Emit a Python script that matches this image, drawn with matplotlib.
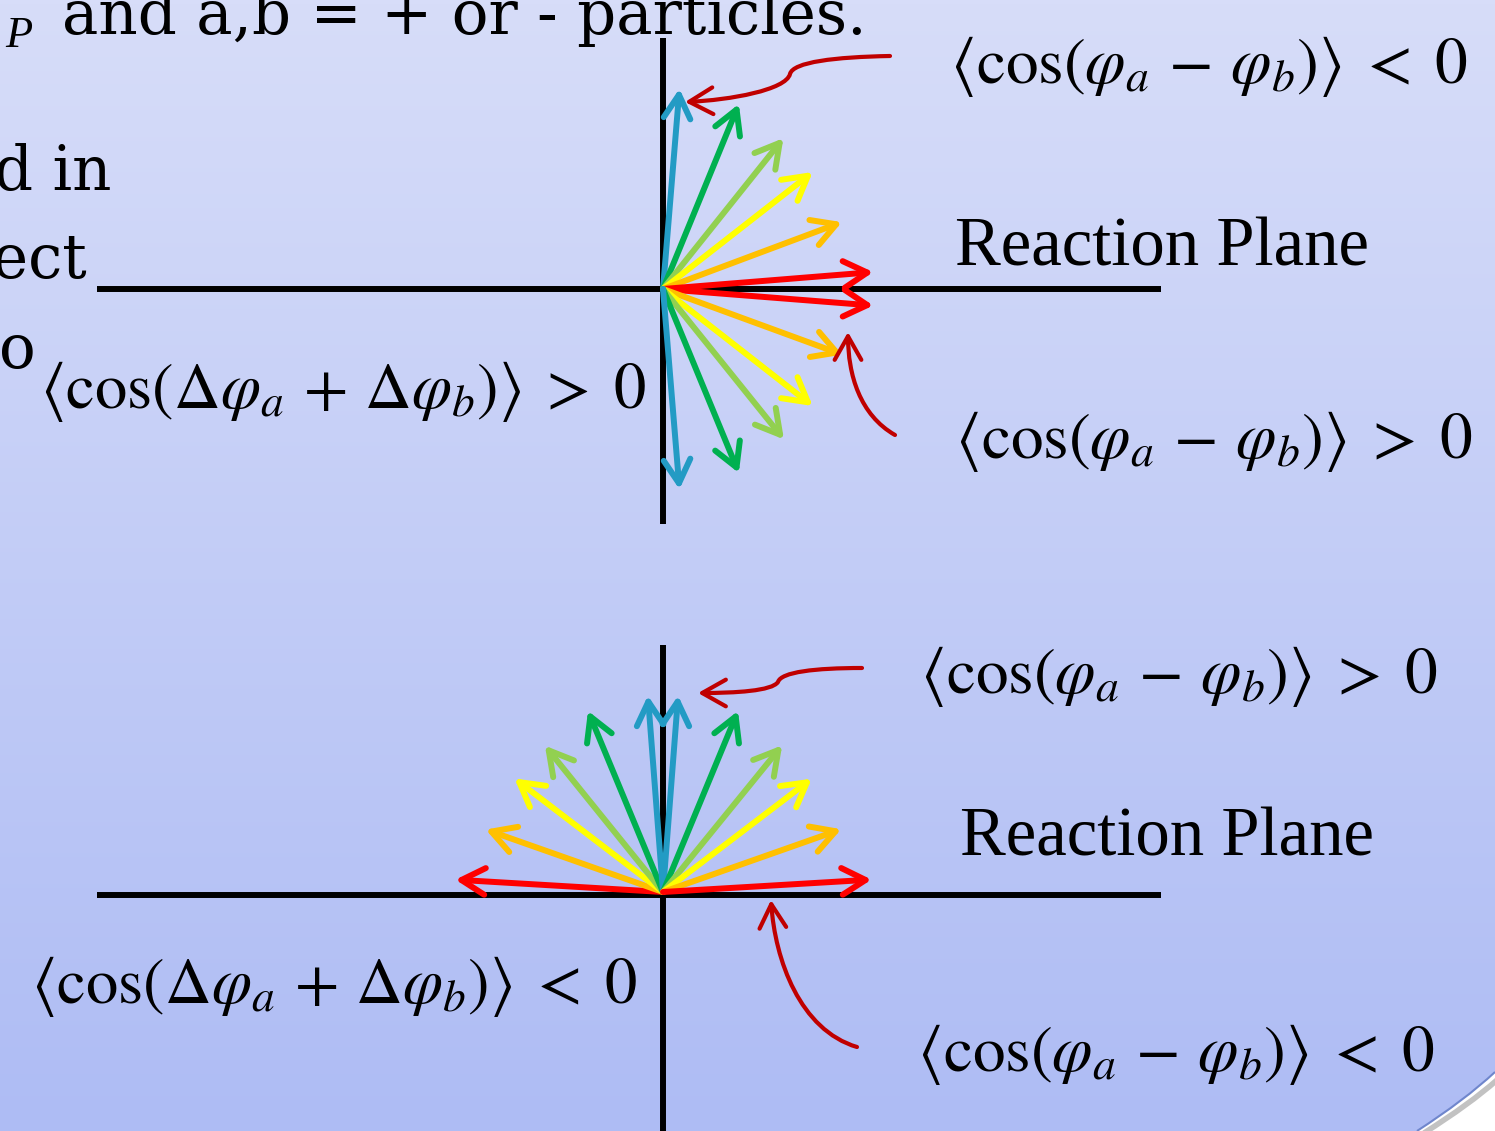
import numpy as np
import matplotlib
matplotlib.use('Agg')
import matplotlib.pyplot as plt
from matplotlib.patches import FancyArrowPatch, PathPatch, ArrowStyle
from matplotlib.path import Path
import matplotlib.colors as mcolors

plt.rcParams['mathtext.fontset'] = 'stix'

# ---------------- data ----------------
fan_colors = ['#239bc4', '#00b050', '#92d050', '#ffff00', '#ffc000', '#ff0000']

# top diagram (in-plane fan, right half) : angle in degrees, length in px
top_angles = [85.3, 67.7, 51.4, 38.0, 20.5, 4.6, -4.5, -20.1, -38.0, -51.2, -67.6, -85.3]
top_lengths = [201, 200, 193, 190, 191, 211, 211, 191, 190, 193, 199, 201]
top_colors = fan_colors + fan_colors[::-1]

# bottom diagram (upper half fan)
bot_angles = [176.6, 160.6, 142.6, 128.9, 112.5, 94.4, 85.6, 67.5, 50.9, 37.3, 19.4, 3.4]
bot_lengths = [208, 188, 187, 188, 196, 197, 197, 196, 189, 187, 189, 209]
bot_colors = fan_colors[::-1] + fan_colors

top_origin = (663, 289)
bot_origin = (663, 892)

W, H = 1495, 1131
fig = plt.figure(figsize=(W / 100, H / 100), dpi=100)
ax = fig.add_axes([0, 0, 1, 1])
ax.set_xlim(0, W)
ax.set_ylim(H, 0)
ax.axis('off')

# background gradient
c_top = np.array(mcolors.to_rgb('#d7ddf9'))
c_bot = np.array(mcolors.to_rgb('#aebcf4'))
t = np.linspace(0, 1, 256)[:, None, None]
grad = c_top * (1 - t) + c_bot * t
grad = np.repeat(grad, 2, axis=1)
ax.imshow(grad, extent=[0, W, H, 0], aspect='auto', zorder=0)

# bottom-right rounded corner of slide shape
corner = Path([(1417, 1131), (1465, 1100), (1495, 1072), (1495, 1131), (1417, 1131)],
              [Path.MOVETO, Path.CURVE3, Path.CURVE3, Path.LINETO, Path.CLOSEPOLY])
ax.add_patch(PathPatch(corner, facecolor='white', edgecolor='none', zorder=1))
edge = Path([(1417, 1131), (1465, 1100), (1495, 1072)], [Path.MOVETO, Path.CURVE3, Path.CURVE3])
shadow = Path([(1424, 1133), (1470, 1104), (1497, 1080)], [Path.MOVETO, Path.CURVE3, Path.CURVE3])
ax.add_patch(PathPatch(shadow, facecolor='none', edgecolor='#9a9a9a', lw=4, alpha=0.6, zorder=1))
ax.add_patch(PathPatch(edge, facecolor='none', edgecolor='#6f86cc', lw=1.5, zorder=2))

# axes lines
axis_lw = 4.3
ax.plot([97, 1161], [289, 289], color='black', lw=axis_lw, solid_capstyle='butt', zorder=2)
ax.plot([663, 663], [38, 524], color='black', lw=axis_lw, solid_capstyle='butt', zorder=2)
ax.plot([97, 1161], [895, 895], color='black', lw=axis_lw, solid_capstyle='butt', zorder=2)
ax.plot([663, 663], [645, 1131], color='black', lw=axis_lw, solid_capstyle='butt', zorder=2)

style = ArrowStyle('->', head_length=0.85, head_width=0.48)


def fan(origin, angles, lengths, colors):
    ox, oy = origin
    for a, L, c in zip(angles, lengths, colors):
        r = np.deg2rad(a)
        tip = (ox + L * np.cos(r), oy - L * np.sin(r))
        ax.add_patch(FancyArrowPatch(origin, tip, arrowstyle=style, mutation_scale=20,
                                     color=c, lw=4.3, shrinkA=0, shrinkB=0,
                                     capstyle='round', joinstyle='round', zorder=3))


fan(top_origin, top_angles, top_lengths, top_colors)
fan(bot_origin, bot_angles, bot_lengths, bot_colors)

# callout curves
dark_red = '#c00000'
callouts = [
    ([(890, 56), (835, 57), (793, 62), (790, 74), (786, 90), (730, 100), (685, 102)],
     [Path.MOVETO, Path.CURVE4, Path.CURVE4, Path.CURVE4, Path.CURVE4, Path.CURVE4, Path.CURVE4]),
    ([(895, 435), (860, 415), (848, 375), (848, 332)],
     [Path.MOVETO, Path.CURVE4, Path.CURVE4, Path.CURVE4]),
    ([(862, 668), (815, 668), (781, 672), (778, 682), (772, 691), (735, 693), (698, 693)],
     [Path.MOVETO, Path.CURVE4, Path.CURVE4, Path.CURVE4, Path.CURVE4, Path.CURVE4, Path.CURVE4]),
    ([(857, 1047), (800, 1030), (775, 960), (771, 900)],
     [Path.MOVETO, Path.CURVE4, Path.CURVE4, Path.CURVE4]),
]
for verts, codes in callouts:
    ax.add_patch(FancyArrowPatch(path=Path(verts, codes), arrowstyle=style, mutation_scale=20,
                                 color=dark_red, lw=3, capstyle='round', joinstyle='round', zorder=3))

# texts
serif = 'Liberation Serif'
body = 'DejaVu Serif'
bfs = 44
ax.text(5, 47, 'P', fontsize=32, family=serif, style='italic', ha='left', va='baseline', zorder=4)
ax.text(62, 34, 'and a,b = + or - particles.', fontsize=bfs, family=body, ha='left', va='baseline', zorder=4)
ax.text(-6, 190, 'd in', fontsize=bfs, family=body, ha='left', va='baseline', zorder=4)
ax.text(-8, 278, 'ect', fontsize=bfs, family=body, ha='left', va='baseline', zorder=4)
ax.text(-1, 368, 'o', fontsize=bfs, family=body, ha='left', va='baseline', zorder=4)

ax.text(955, 266, 'Reaction Plane', fontsize=49.5, family=serif, ha='left', va='baseline', zorder=4)
ax.text(960, 856, 'Reaction Plane', fontsize=49.5, family=serif, ha='left', va='baseline', zorder=4)

fs = 47
f_sum_pos = r'$\langle\cos(\Delta\varphi_a\,+\,\Delta\varphi_b)\rangle\;>\;0$'
f_sum_neg = r'$\langle\cos(\Delta\varphi_a\,+\,\Delta\varphi_b)\rangle\;<\;0$'
f_dif_pos = r'$\langle\cos(\varphi_a\,-\,\varphi_b)\rangle\;>\;0$'
f_dif_neg = r'$\langle\cos(\varphi_a\,-\,\varphi_b)\rangle\;<\;0$'
ax.text(950, 83, f_dif_neg, fontsize=fs, ha='left', va='baseline', zorder=4)
ax.text(40, 408, f_sum_pos, fontsize=46.5, ha='left', va='baseline', zorder=4)
ax.text(955, 458, f_dif_pos, fontsize=fs, ha='left', va='baseline', zorder=4)
ax.text(920, 693, f_dif_pos, fontsize=fs, ha='left', va='baseline', zorder=4)
ax.text(31, 1003, f_sum_neg, fontsize=46.5, ha='left', va='baseline', zorder=4)
ax.text(917, 1071, f_dif_neg, fontsize=fs, ha='left', va='baseline', zorder=4)

fig.savefig('out.png', dpi=100)
